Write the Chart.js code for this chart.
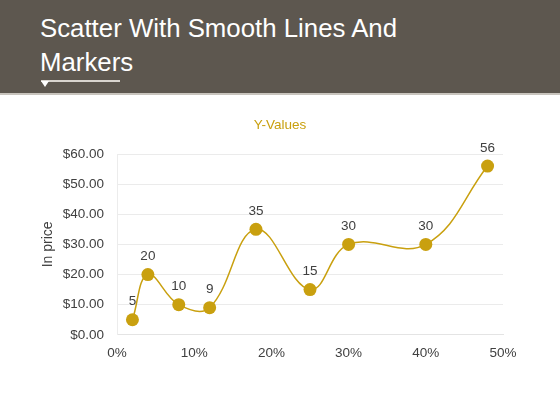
<!DOCTYPE html>
<html>
<head>
<meta charset="utf-8">
<script src="https://cdn.jsdelivr.net/npm/chart.js@4/dist/chart.umd.min.js"></script>
<style>
  body { margin: 0; width: 560px; height: 420px; background: #fff; overflow: hidden; font-family: "Liberation Sans", Arial, sans-serif; }
  #header { position: absolute; left: 0; top: 0; width: 560px; height: 93px; background: #5d574f; border-bottom: 2px solid #c8c4bd; }
  #header h1 { position: absolute; left: 40px; top: 11px; margin: 0; font-weight: normal; font-size: 25.8px; line-height: 34px; color: #fff; }
  #rule { position: absolute; left: 41px; top: 80px; width: 79px; height: 2px; background: #d9d5cf; }
  #tri { position: absolute; left: 41px; top: 81px; width: 0; height: 0; border-left: 4px solid transparent; border-right: 4px solid transparent; border-top: 6px solid #fff; }
  #wrap { position: absolute; left: 0; top: 95px; width: 560px; height: 325px; }
</style>
</head>
<body>
<div id="header">
  <h1>Scatter With Smooth Lines And<br>Markers</h1>
  <div id="rule"></div>
  <div id="tri"></div>
</div>
<div id="wrap"><canvas id="chart"></canvas></div>
<script>
// data
const xPercent = [2, 4, 8, 12, 18, 25, 30, 40, 48];
const prices = [5, 20, 10, 9, 35, 15, 30, 30, 56];
const seriesName = 'Y-Values';
const yTitle = 'In price';

const gold = '#c9a00f';
const textGrey = '#404040';
const fontFamily = '"Liberation Sans", Arial, sans-serif';

// series name centred over the whole canvas, numbers over each marker
const pointLabels = {
  id: 'pointLabels',
  afterDatasetsDraw(chart) {
    const ctx = chart.ctx;
    const meta = chart.getDatasetMeta(0);
    ctx.save();
    ctx.textAlign = 'center';
    ctx.textBaseline = 'middle';
    ctx.font = '13.5px ' + fontFamily;
    ctx.fillStyle = gold;
    ctx.fillText(seriesName, chart.width / 2, 30);
    ctx.fillStyle = textGrey;
    meta.data.forEach((pt, i) => {
      ctx.fillText(String(prices[i]), pt.x, pt.y - 18);
    });
    ctx.restore();
  }
};

new Chart(document.getElementById('chart'), {
  type: 'scatter',
  data: {
    datasets: [{
      label: seriesName,
      data: xPercent.map((x, i) => ({ x, y: prices[i] })),
      showLine: true,
      tension: 0.4,
      borderColor: gold,
      borderWidth: 1.5,
      pointRadius: 6.5,
      pointBackgroundColor: gold,
      pointBorderColor: gold,
      pointBorderWidth: 0
    }]
  },
  options: {
    responsive: true,
    maintainAspectRatio: false,
    animation: false,
    layout: { padding: { left: 0, right: 57, top: 59, bottom: 49 } },
    plugins: {
      legend: { display: false },
      tooltip: { enabled: false },
      title: { display: false }
    },
    scales: {
      x: {
        type: 'linear',
        min: 0,
        max: 50,
        grid: { display: false, drawTicks: false },
        border: { display: true, color: '#e4e4e4' },
        ticks: {
          stepSize: 10,
          padding: 10,
          color: textGrey,
          font: { family: fontFamily, size: 13.5 },
          callback: v => v + '%'
        }
      },
      y: {
        min: 0,
        max: 60,
        afterFit: s => { s.width = 117; },
        grid: { color: '#ebebeb', drawTicks: false },
        border: { display: true, color: '#ececec' },
        ticks: {
          stepSize: 10,
          padding: 13,
          color: textGrey,
          font: { family: fontFamily, size: 13.5 },
          callback: v => '$' + v.toFixed(2)
        },
        title: {
          display: true,
          text: yTitle,
          color: textGrey,
          font: { family: fontFamily, size: 14 },
          padding: { top: 40, bottom: 0 }
        }
      }
    }
  },
  plugins: [pointLabels]
});
</script>
</body>
</html>
